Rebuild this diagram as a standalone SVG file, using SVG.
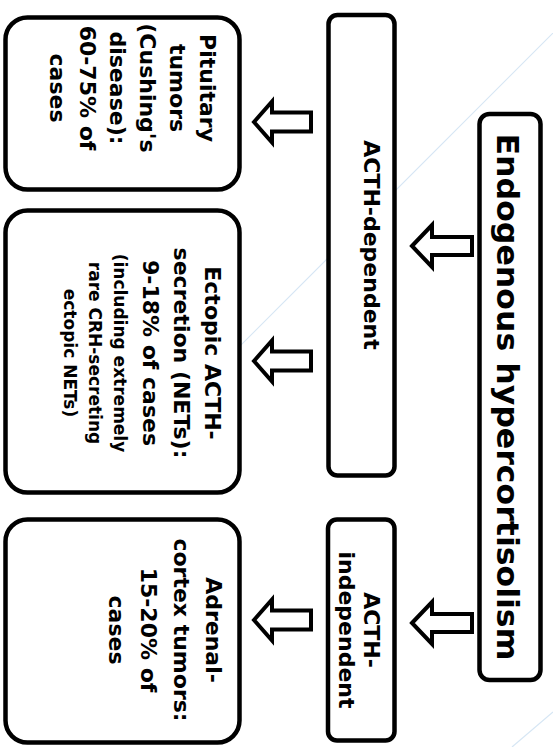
<svg xmlns="http://www.w3.org/2000/svg" width="553" height="747" viewBox="0 0 553 747">
  <style>
    .box { fill: #ffffff; stroke: #000000; stroke-width: 4.5; }
    .arrow { fill: #ffffff; stroke: #000000; stroke-width: 4; stroke-linejoin: miter; }
    .t { font-family: "DejaVu Sans", "Liberation Sans", sans-serif; font-weight: bold; fill: #000000; text-anchor: middle; }
    .title { font-size: 31px; }
    .lbl { font-size: 22px; }
    .sm { font-size: 17px; }
    .wm { stroke: #d6e6f4; stroke-width: 1.2; fill: none; }
  </style>
  <defs>
    <!-- hollow block arrows pointing left, tip at the origin -->
    <path id="arrowLong" d="M0,0 L18,-20.5 L18,-9.5 L57,-9.5 L57,9.5 L18,9.5 L18,20.5 Z"/>
    <path id="arrowShort" d="M0,0 L20,-21 L20,-9 L60,-9 L60,9 L20,9 L20,21 Z"/>
  </defs>

  <rect width="553" height="747" fill="#ffffff"/>

  <!-- faint background lines -->
  <g id="background">
    <line class="wm" x1="560" y1="26" x2="108" y2="478"/>
    <line class="wm" x1="553" y1="712" x2="512" y2="747"/>
  </g>

  <!-- connectors -->
  <g id="connectors">
    <use href="#arrowShort" class="arrow" x="412" y="246"/>
    <use href="#arrowShort" class="arrow" x="412" y="623"/>
    <use href="#arrowLong" class="arrow" x="254" y="122"/>
    <use href="#arrowLong" class="arrow" x="254" y="361"/>
    <use href="#arrowLong" class="arrow" x="254" y="620"/>
  </g>

  <g id="node-root">
    <rect class="box" x="479.5" y="114" width="61" height="566" rx="10"/>
    <text class="t title" transform="translate(497,397) rotate(90)" textLength="527" lengthAdjust="spacingAndGlyphs">Endogenous hypercortisolism</text>
  </g>

  <g id="node-acth-dependent">
    <rect class="box" x="328.5" y="15" width="66" height="460.5" rx="9"/>
    <text class="t lbl" transform="translate(364,245) rotate(90)">ACTH-dependent</text>
  </g>

  <g id="node-acth-independent">
    <rect class="box" x="328" y="519.5" width="66.5" height="221" rx="9"/>
    <text class="t lbl" transform="translate(364,630) rotate(90)">ACTH-</text>
    <text class="t lbl" transform="translate(339,630) rotate(90)">independent</text>
  </g>

  <g id="node-pituitary">
    <rect class="box" x="5.5" y="17.5" width="234" height="172" rx="22"/>
    <text class="t lbl" transform="translate(200,88) rotate(90)">Pituitary</text>
    <text class="t lbl" transform="translate(170,88) rotate(90)">tumors</text>
    <text class="t lbl" transform="translate(140,88) rotate(90)">(Cushing's</text>
    <text class="t lbl" transform="translate(110,88) rotate(90)">disease):</text>
    <text class="t lbl" transform="translate(80,88) rotate(90)">60-75% of</text>
    <text class="t lbl" transform="translate(50,88) rotate(90)">cases</text>
  </g>

  <g id="node-ectopic">
    <rect class="box" x="5.5" y="210.5" width="234" height="282" rx="22"/>
    <text class="t lbl" transform="translate(205,353) rotate(90)">Ectopic ACTH-</text>
    <text class="t lbl" transform="translate(174,353) rotate(90)">secretion (NETs):</text>
    <text class="t lbl" transform="translate(143,353) rotate(90)">9-18% of cases</text>
    <text class="t sm" transform="translate(114,353) rotate(90)">(including extremely</text>
    <text class="t sm" transform="translate(89,353) rotate(90)">rare CRH-secreting</text>
    <text class="t sm" transform="translate(64,353) rotate(90)">ectopic NETs)</text>
  </g>

  <g id="node-adrenal">
    <rect class="box" x="5.5" y="519.5" width="234" height="223" rx="22"/>
    <text class="t lbl" transform="translate(206,630) rotate(90)">Adrenal-</text>
    <text class="t lbl" transform="translate(174,630) rotate(90)">cortex tumors:</text>
    <text class="t lbl" transform="translate(141,630) rotate(90)">15-20% of</text>
    <text class="t lbl" transform="translate(109,630) rotate(90)">cases</text>
  </g>
</svg>
